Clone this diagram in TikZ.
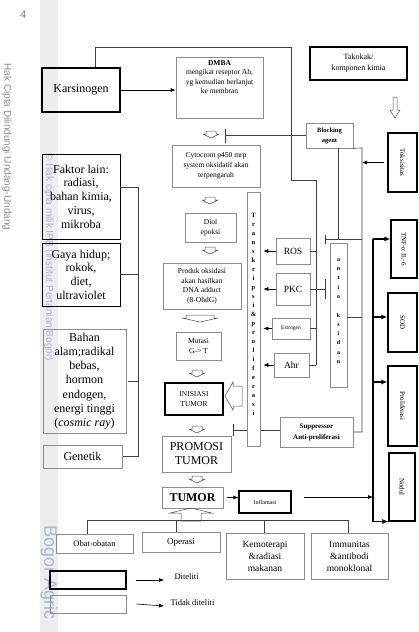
\documentclass[tikz,border=0pt]{standalone}
\usepackage{fontspec}
\setmainfont{Liberation Serif}
\newfontfamily\wmfont{Liberation Sans}
\usetikzlibrary{arrows.meta}
\definecolor{abu_garis}{HTML}{8C8C8C}
\definecolor{abu_strip}{HTML}{EDEDED}
\definecolor{tanda_air}{HTML}{AEB6CC}

\begin{document}
\begin{tikzpicture}[x=1pt,y=-1pt,
    diteliti/.style={draw=black,line width=1.1pt,inner sep=0pt,align=center},
    tidakditeliti/.style={draw=abu_garis,line width=0.6pt,inner sep=0pt,align=center},
    garis/.style={black!75,line width=0.6pt},
    panah/.style={-{Latex[length=5pt,width=4pt]},black,line width=0.6pt},
    tebal/.style={-{Latex[length=6pt,width=5pt]},black,line width=1.4pt},
    hambat/.style={-{Bar[width=#1]},black!75,line width=0.6pt},
    blok/.style={draw=black!70,line width=0.5pt}]
    \useasboundingbox (0,0) rectangle (419,632);
    % tepi halaman
    \fill[abu_strip] (40,0) rectangle (58,632);
    \node[text=gray,font=\fontsize{12}{14}\selectfont] (halaman) at (23,15) {4};
    \node[rotate=-90,anchor=west,text=gray!90,font=\wmfont\fontsize{10}{12}\selectfont] (cipta) at (7,60) {Hak Cipta Dilindungi Undang-Undang};
    \node[rotate=-90,anchor=west,text=tanda_air,font=\wmfont\fontsize{10}{12}\selectfont] (milik) at (49,150) {© Hak cipta milik IPB (Institut Pertanian Bogor)};
    \node[rotate=-90,anchor=west,text=tanda_air,font=\wmfont\fontsize{18}{20}\selectfont] (univ) at (49,522) {Bogor Agric};

    % kolom kiri
    \node[diteliti,minimum width=78,minimum height=44,font=\fontsize{12}{14}\selectfont] (karsinogen) at (81,90) {Karsinogen};
    \node[diteliti,line width=0.8pt,minimum width=78,minimum height=85,font=\fontsize{12}{13.7}\selectfont] (faktor) at (81,196.5) {Faktor lain:\\radiasi,\\bahan kimia,\\virus,\\mikroba};
    \node[diteliti,line width=0.8pt,minimum width=78,minimum height=63,font=\fontsize{12}{13.7}\selectfont] (gaya) at (81,274.5) {Gaya hidup;\\rokok,\\diet,\\ultraviolet};
    \node[tidakditeliti,minimum width=83,minimum height=104,font=\fontsize{12}{14.2}\selectfont] (bahan) at (84.5,381) {Bahan\\alam;radikal\\bebas,\\hormon\\endogen,\\energi tinggi\\(\textit{cosmic ray})};
    \node[tidakditeliti,minimum width=79,minimum height=23,font=\fontsize{12}{14}\selectfont] (genetik) at (82.5,456.5) {Genetik};

    % jalur tengah
    \node[tidakditeliti,minimum width=87,minimum height=61] (dmba) at (219.5,87.5) {};
    \node[anchor=north,align=center,font=\fontsize{7.5}{9.5}\selectfont] (dmbateks) at (dmba.north) {\textbf{DMBA}\\mengikat reseptor Ah,\\yg kemudian berlanjut\\ke membran};
    \node[tidakditeliti,minimum width=88,minimum height=42,font=\fontsize{7.5}{10}\selectfont] (cytocrom) at (216,166) {Cytocrom p450 mrp\\system oksidatif akan\\terpengaruh};
    \node[tidakditeliti,minimum width=51,minimum height=29,font=\fontsize{7.5}{10}\selectfont] (diol) at (210.5,227.5) {Diol\\epoksi};
    \node[tidakditeliti,minimum width=78,minimum height=46,font=\fontsize{7.5}{9.5}\selectfont] (produk) at (202,286) {Produk oksidasi\\akan hasilkan\\DNA adduct\\(8-OhdG)};
    \node[tidakditeliti,minimum width=45,minimum height=28,font=\fontsize{7.5}{9.5}\selectfont] (mutasi) at (198.5,346) {Mutasi\\G-> T};
    \node[diteliti,minimum width=58,minimum height=32,font=\fontsize{7.5}{10}\selectfont] (inisiasi) at (194,399) {INISIASI\\TUMOR};
    \node[tidakditeliti,minimum width=69,minimum height=36,font=\fontsize{12}{14}\selectfont] (promosi) at (196.5,454) {PROMOSI\\TUMOR};
    \node[tidakditeliti,minimum width=61,minimum height=21,font=\fontsize{12}{14}\selectfont\bfseries] (tumor) at (192.5,497.5) {TUMOR};
    \node[diteliti,minimum width=52,minimum height=22,font=\fontsize{6}{8}\selectfont] (inflamasi) at (265,502) {Inflamasi};

    % faktor hambat dan pemicu
    \node[diteliti,minimum width=97,minimum height=33,font=\fontsize{8}{11}\selectfont] (takokak) at (358.5,63.5) {Takokak/\\komponen kimia};
    \node[tidakditeliti,minimum width=47,minimum height=25,font=\fontsize{6.5}{10}\selectfont\bfseries] (blocking) at (329.5,135.5) {Blocking\\agent};
    \node[tidakditeliti,minimum width=34,minimum height=26,font=\fontsize{9.5}{11}\selectfont] (ros) at (293,251) {ROS};
    \node[tidakditeliti,minimum width=34,minimum height=32,font=\fontsize{9.5}{11}\selectfont] (pkc) at (293,289) {PKC};
    \node[tidakditeliti,minimum width=38,minimum height=21,font=\fontsize{5.5}{7}\selectfont] (estrogen) at (291,328.5) {Estrogen};
    \node[tidakditeliti,minimum width=35,minimum height=24,font=\fontsize{9.5}{11}\selectfont] (ahr) at (291.5,365) {Ahr};
    \node[tidakditeliti,minimum width=73,minimum height=30,font=\fontsize{7}{11}\selectfont\bfseries] (suppressor) at (316.5,432) {Suppressor\\Anti-proliferasi};
    \node[tidakditeliti,minimum width=17,minimum height=144] (antioksidan) at (338.5,315) {};
    \node[align=center,font=\fontsize{6}{9.3}\selectfont\bfseries] (antiokteks) at (338.5,311) {a\\n\\t\\i\\o\\[9.3pt]k\\s\\i\\d\\a\\n};

    % kolom kanan
    \node[diteliti,minimum width=29,minimum height=59,label={[rotate=-90,font=\fontsize{7}{8}\selectfont]center:Toksisitas}] (toksisitas) at (402.5,162.5) {};
    \node[diteliti,minimum width=26,minimum height=58,label={[rotate=-90,font=\fontsize{7}{8}\selectfont]center:TNF-α IL-6}] (tnf) at (404,249) {};
    \node[diteliti,minimum width=29,minimum height=59,label={[rotate=-90,font=\fontsize{7}{8}\selectfont]center:SOD}] (sod) at (402.5,322.5) {};
    \node[diteliti,minimum width=29,minimum height=80,label={[rotate=-90,font=\fontsize{7}{8}\selectfont]center:Proliferasi}] (proliferasi) at (402.5,406) {};
    \node[diteliti,minimum width=26,minimum height=68,label={[rotate=-90,font=\fontsize{7}{8}\selectfont]center:Nodul}] (nodul) at (402,487) {};

    % pengobatan
    \node[tidakditeliti,minimum width=77,minimum height=19,font=\fontsize{8.5}{10}\selectfont] (obat) at (94.5,543.5) {Obat-obatan};
    \node[tidakditeliti,minimum width=78,minimum height=20,font=\fontsize{9}{10}\selectfont] (operasi) at (181,542) {Operasi};
    \node[tidakditeliti,minimum width=78,minimum height=46,font=\fontsize{9.5}{12}\selectfont] (kemo) at (265,556) {Kemoterapi\\\&radiasi\\makanan};
    \node[tidakditeliti,minimum width=77,minimum height=46,font=\fontsize{9.5}{12}\selectfont] (imun) at (349.5,556) {Immunitas\\\&antibodi\\monoklonal};

    % keterangan
    \node[diteliti,minimum width=76,minimum height=18] (leg1) at (88,580) {};
    \node[tidakditeliti,minimum width=76,minimum height=18] (leg2) at (88,604) {};
    \node[anchor=west,font=\fontsize{8.5}{10}\selectfont] (ket1) at (171,577) {Diteliti};
    \node[anchor=west,font=\fontsize{8.5}{10}\selectfont] (ket2) at (167,603) {Tidak diteliti};
    \draw[panah] ([xshift=9]leg1.east) -- ([xshift=-7,yshift=-3]ket1.west);
    \draw[panah] ([xshift=10]leg2.east) -- ([xshift=-3,yshift=-3]ket2.west);

    % hambatan suppressor (di belakang batang transkripsi)
    \coordinate (tekan) at (233,430);
    \draw[hambat=12pt] (suppressor.west |- tekan) -- (tekan);
    \node[tidakditeliti,fill=white,minimum width=13,minimum height=254] (transkripsi) at (253.5,319) {};
    \node[align=center,font=\fontsize{6.5}{9}\selectfont\bfseries] (transkripsiteks) at (253.5,314) {T\\r\\a\\n\\s\\k\\r\\i\\p\\s\\i\\\&\\p\\r\\o\\l\\i\\f\\e\\r\\a\\s\\i};

    % karsinogen
    \coordinate (atas) at (291,47);
    \coordinate (cabang) at (316,180);
    \draw[panah] (karsinogen.east) -- (karsinogen.east -| dmba.west);
    \draw[garis] ([xshift=14]karsinogen.north) |- (atas) |- (cabang) -- (cabang |- ahr.east);
    \draw[garis] (ros.east) -- (ros.east -| cabang);
    \draw[garis] (estrogen.east) -- (estrogen.east -| cabang);
    \draw[garis] (ahr.east) -- (ahr.east -| cabang);
    \draw[hambat=20pt] (pkc.east) -- ([xshift=15]pkc.east);
    \draw[panah] (ros.west) -- ([xshift=3]ros.west -| transkripsi.east);
    \draw[panah] (pkc.west) -- ([xshift=3]pkc.west -| transkripsi.east);
    \draw[panah] (estrogen.west) -- ([xshift=3]estrogen.west -| transkripsi.east);
    \draw[panah] (ahr.west) -- ([xshift=3]ahr.west -| transkripsi.east);

    % blocking agent
    \coordinate (kanan) at (362,148);
    \coordinate (hambatatas) at (325,239);
    \draw[hambat=14pt] (blocking.west) -- ([xshift=-81]blocking.west);
    \draw[garis] (blocking.south east) -- (kanan) |- (suppressor.east);
    \draw[garis] ([xshift=8.5]blocking.south) -- ([xshift=8.5]blocking.south |- hambatatas);
    \draw[hambat=9pt] (kanan |- hambatatas) -- (hambatatas);
    \draw[garis] ([yshift=-2]antioksidan.east) -- ([yshift=-2]antioksidan.east -| kanan);
    \draw[panah] ([xshift=-3]toksisitas.west) -- (toksisitas.west -| kanan);

    % faktor lain
    \coordinate (kiri) at (138,187);
    \draw[garis] ([yshift=9.5]faktor.east) -- (kiri) -- (kiri |- genetik.east) -- ([xshift=1]genetik.east);
    \draw[garis] (gaya.east) -- (gaya.east -| kiri);
    \draw[garis] ([xshift=2]bahan.east) -- (bahan.east -| kiri);

    % efek
    \coordinate (batang) at (373,239);
    \draw[line width=1.4pt] (batang) -- (batang |- nodul.south);
    \draw[tebal] (batang) -- (batang -| tnf.west);
    \draw[tebal] ([yshift=5.5]sod.west -| batang) -- ([yshift=5.5]sod.west);
    \draw[tebal] ([yshift=24]proliferasi.west -| batang) -- ([yshift=24]proliferasi.west);
    \draw[tebal] (batang |- nodul.south) -- (nodul.south west);
    \draw[panah] ([xshift=4]tumor.east) -- (tumor.east -| inflamasi.west);
    \draw[panah] ([xshift=12,yshift=5]inflamasi.east) -- ([yshift=5]inflamasi.east -| batang);

    % pengobatan
    \draw[garis] ([xshift=-7.5]obat.north) -- ++(0,-13) -| ([xshift=-1.5]imun.north);
    \draw[garis] ([xshift=-5]operasi.north) -- ++(0,-11);
    \draw[garis] ([xshift=-1]kemo.north) -- ++(0,-12);

    % panah blok
    \foreach \x/\y in {211/131, 210/197, 210/247, 197/370, 197/426, 197/476}
      \draw[blok] (\x-5,\y) -- (\x+5,\y) -- (\x+5,\y+3) -- (\x+8,\y+3) -- (\x,\y+7) -- (\x-8,\y+3) -- (\x-5,\y+3) -- cycle;
    \draw[blok] (186,315) -- (214,315) -- (214,318) -- (218,318) -- (200,322) -- (182,318) -- (186,318) -- cycle;
    \draw[blok] (225,396) -- (233,382) -- (233,386) -- (242,386) -- (242,406) -- (233,406) -- (233,410) -- cycle;
    \draw[blok] (191,508) -- (212,513) -- (201,513) -- (201,521) -- (181,521) -- (181,513) -- (170,513) -- cycle;
    \draw[blok] (393,97) -- (397,97) -- (397,110) -- (400,110) -- (395,118) -- (390,110) -- (393,110) -- cycle;
\end{tikzpicture}
\end{document}
